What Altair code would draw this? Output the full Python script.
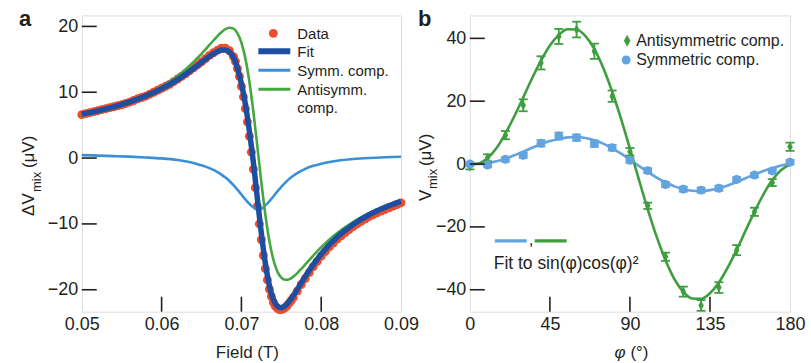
import altair as alt
import pandas as pd

FONT = "Liberation Sans"
TXT = "#231f20"
RED = "#EE4D2D"
FITC = "#1D4E9F"
SYMA = "#3B90D5"
GRNA = "#45A73F"
GRNB = "#3E9E3F"
BLUB = "#62A3E0"

# ---------------- panel a data ----------------
line_field = [0.050, 0.052, 0.054, 0.056, 0.058, 0.060, 0.062, 0.064,
              0.0645, 0.065, 0.0655, 0.066, 0.0665, 0.067, 0.0675, 0.068, 0.0685, 0.069,
              0.0695, 0.070, 0.0705, 0.071, 0.0715, 0.072, 0.0725, 0.073, 0.0735, 0.074,
              0.0745, 0.075, 0.0755, 0.076, 0.0765, 0.077, 0.0775, 0.078,
              0.079, 0.080, 0.082, 0.084, 0.086, 0.088, 0.090]
fit_vals = [6.67, 7.18, 7.79, 8.53, 9.43, 10.55, 11.92, 13.61,
            14.06, 14.54, 15.0, 15.45, 15.86, 16.19, 16.40, 16.41, 16.11, 15.36,
            13.7, 11.3, 8.2, 4.1, -0.64, -6.15, -11.46, -15.98, -19.33, -21.44,
            -22.49, -22.73, -22.41, -21.75, -20.89, -19.94, -18.96, -17.99,
            -16.18, -14.58, -12.0, -10.07, -8.61, -7.47, -6.56]
sym_vals = [0.45, 0.38, 0.30, 0.22, 0.10, -0.05, -0.30, -0.75,
            -0.92, -1.10, -1.30, -1.53, -1.80, -2.13, -2.51, -2.96, -3.48, -4.10,
            -4.78, -5.53, -6.28, -6.96, -7.47, -7.80, -7.72, -7.19, -6.57, -5.83,
            -5.08, -4.36, -3.72, -3.16, -2.68, -2.27, -1.93, -1.63,
            -1.18, -0.85, -0.41, -0.15, 0.01, 0.12, 0.20]
anti_vals = [6.4, 6.95, 7.6, 8.45, 9.5, 10.8, 12.45, 14.6,
             15.2, 15.84, 16.5, 17.18, 17.86, 18.52, 19.11, 19.57, 19.79, 19.66,
             18.99, 17.55, 15.13, 11.6, 7.03, 1.74, -3.67, -8.59, -12.56, -15.41,
             -17.21, -18.17, -18.49, -18.39, -18.01, -17.47, -16.83, -16.16,
             -14.8, -13.53, -11.39, -9.72, -8.42, -7.39, -6.56]

data_field = [0.0500, 0.0505, 0.0510, 0.0515, 0.0520, 0.0525, 0.0530, 0.0535, 0.0540, 0.0545,
              0.0550, 0.0555, 0.0560, 0.0565, 0.0570, 0.0575, 0.0580, 0.0585, 0.0590, 0.0595,
              0.0600, 0.0605, 0.0610, 0.0615, 0.0620, 0.0625, 0.0630, 0.0635, 0.0640, 0.0645,
              0.0650, 0.0655, 0.0660,
              0.0665, 0.0670, 0.0675, 0.0680, 0.0685,
              0.06900, 0.06925, 0.06950, 0.06975, 0.07000, 0.07025, 0.07050, 0.07075,
              0.07100, 0.07125, 0.07150, 0.07175, 0.07200, 0.07225, 0.07250, 0.07275,
              0.07300, 0.07325, 0.07350, 0.07375, 0.07400, 0.07425, 0.07450, 0.07475,
              0.07500, 0.07525, 0.07550, 0.07575, 0.07600, 0.07625,
              0.0765, 0.0770, 0.0775,
              0.0780, 0.0785, 0.0790, 0.0795, 0.0800, 0.0805, 0.0810, 0.0815, 0.0820,
              0.0825, 0.0830, 0.0835, 0.0840, 0.0845, 0.0850, 0.0855, 0.0860, 0.0865,
              0.0870, 0.0875, 0.0880, 0.0885, 0.0890, 0.0895, 0.0900]
data_vals = [6.6, 6.75, 6.9, 7.05, 7.2, 7.35, 7.5, 7.65, 7.8, 7.95,
             8.1, 8.3, 8.5, 8.75, 9.0, 9.2, 9.4, 9.7, 10.0, 10.3,
             10.6, 10.9, 11.2, 11.6, 12.0, 12.4, 12.8, 13.25, 13.7, 14.15,
             14.6, 15.1, 15.6,
             16.0, 16.4, 16.7, 16.7, 16.3,
             15.4, 14.7, 13.6, 12.4, 10.9, 9.3, 7.5, 5.5,
             3.3, 0.9, -1.7, -4.5, -7.3, -10.0, -12.4, -14.8,
             -16.8, -18.5, -19.9, -21.0, -21.9, -22.5, -22.8, -23.0,
             -23.0, -22.9, -22.7, -22.4, -22.0, -21.6,
             -21.2, -20.2, -19.2,
             -18.3, -17.4, -16.5, -15.7, -14.9, -14.2, -13.5, -12.9, -12.3,
             -11.8, -11.3, -10.85, -10.4, -10.0, -9.6, -9.25, -8.9, -8.6,
             -8.3, -8.05, -7.8, -7.55, -7.3, -7.05, -6.8]

a_xticks = [0.05, 0.06, 0.07, 0.08, 0.09]
a_yticks = [-20, -10, 0, 10, 20]

# ---------------- panel b data ----------------
phi = [0, 10, 20, 30, 40, 50, 60, 70, 80, 90, 100, 110, 120, 130, 140, 150, 160, 170, 180]
anti_b = [-0.8, 2.0, 9.2, 18.7, 32.2, 40.6, 42.8, 35.9, 21.6, 3.9,
          -13.3, -29.5, -40.6, -45.0, -39.3, -27.4, -15.2, -5.9, 5.5]
anti_err = [0.9, 1.1, 1.3, 1.9, 2.1, 2.4, 2.5, 2.4, 1.8, 1.2,
            1.0, 1.3, 1.6, 1.7, 1.7, 1.6, 1.3, 1.1, 1.3]
sym_b = [0.0, -0.3, 1.5, 2.8, 6.6, 8.9, 8.4, 6.5, 5.2, 1.2,
         -2.1, -6.5, -8.0, -8.3, -7.7, -4.9, -3.5, -2.2, 0.6]
sym_err = [0.6, 0.6, 0.7, 0.8, 1.0, 1.1, 1.0, 1.0, 0.9, 0.8,
           0.8, 0.8, 0.8, 0.8, 0.8, 0.7, 0.7, 0.7, 0.7]

phi_fit = [0, 5, 10, 15, 20, 25, 30, 35, 40, 45, 50, 55, 60, 65, 70, 75, 80, 85, 90,
           95, 100, 105, 110, 115, 120, 125, 130, 135, 140, 145, 150, 155, 160, 165, 170, 175, 180]
anti_fit = [0.0, 0.2, 1.9, 5.1, 9.7, 15.2, 21.2, 27.3, 32.9, 37.7, 41.1, 42.9, 42.8, 40.7,
            36.6, 30.6, 23.1, 14.4, 4.9, -4.9, -14.4, -23.1, -30.6, -36.6, -40.7, -42.8,
            -42.9, -41.1, -37.7, -32.9, -27.3, -21.2, -15.2, -9.7, -5.1, -1.9, -0.2]
sym_fit = [0.0, 0.0, 0.3, 0.9, 1.7, 2.8, 3.9, 5.2, 6.3, 7.3, 8.0, 8.5, 8.6, 8.3, 7.6,
           6.5, 5.0, 3.3, 1.4, -0.6, -2.5, -4.3, -5.8, -7.1, -8.0, -8.5, -8.6, -8.3,
           -7.7, -6.8, -5.7, -4.5, -3.3, -2.2, -1.3, -0.5, 0.2]

b_xticks = [0, 45, 90, 135, 180]
b_yticks = [-40, -20, 0, 20, 40]

# ---------------- helpers ----------------
ONE = pd.DataFrame({"k": [0]})
WA, HA = 320, 297
WB, HB = 321, 297
TICK = 15


def text(s, x, y, size=16, align="left", baseline="middle", angle=None,
         weight="normal", style="normal", color=TXT):
    kw = dict(text=s, fontSize=size, align=align, baseline=baseline, font=FONT,
              fontWeight=weight, fontStyle=style, color=color)
    if angle is not None:
        kw["angle"] = angle
    return alt.Chart(ONE).mark_text(**kw).encode(x=alt.value(x), y=alt.value(y))


def seg(x1, x2, y1, y2, color, width):
    return alt.Chart(ONE).mark_rule(color=color, strokeWidth=width, strokeCap="butt").encode(
        x=alt.value(x1), x2=alt.value(x2), y=alt.value(y1), y2=alt.value(y2))


def axis(values, fmt):
    return alt.Axis(values=values, format=fmt, title=None, ticks=False, domain=False, grid=False,
                    labelFont=FONT, labelFontSize=18, labelColor=TXT, labelPadding=4,
                    labelFlush=False, labelOverlap=False)


# ---------------- panel a ----------------
xs_a = alt.Scale(domain=[0.05, 0.09], nice=False, zero=False)
ys_a = alt.Scale(domain=[-23.33, 21.67], nice=False, zero=False)
ax_a = axis(a_xticks, ".2f")
ay_a = axis(a_yticks, "d")


def XA(f):
    return alt.X(f, type="quantitative", scale=xs_a, axis=ax_a)


def YA(f):
    return alt.Y(f, type="quantitative", scale=ys_a, axis=ay_a)


lines_a = pd.DataFrame({"field": line_field, "fit": fit_vals, "sym": sym_vals, "anti": anti_vals})
pts_a = pd.DataFrame({"field": data_field, "v": data_vals})

dots_a = alt.Chart(pts_a).mark_circle(size=80, color=RED, opacity=1).encode(x=XA("field"), y=YA("v"))
sym_line = alt.Chart(lines_a).mark_line(color=SYMA, strokeWidth=2.6, interpolate="monotone").encode(
    x=XA("field"), y=YA("sym"))
anti_line = alt.Chart(lines_a).mark_line(color=GRNA, strokeWidth=2.6, interpolate="monotone").encode(
    x=XA("field"), y=YA("anti"))
fit_line = alt.Chart(lines_a).mark_line(color=FITC, strokeWidth=5.5, interpolate="monotone").encode(
    x=XA("field"), y=YA("fit"))

xt_a = alt.Chart(pd.DataFrame({"t": a_xticks[1:-1]})).mark_rule(color=TXT, strokeWidth=1.6).encode(
    x=XA("t"), y=alt.value(HA), y2=alt.value(HA - TICK))
yt_a = alt.Chart(pd.DataFrame({"t": a_yticks})).mark_rule(color=TXT, strokeWidth=1.6).encode(
    y=YA("t"), x=alt.value(0), x2=alt.value(TICK))

pin = alt.Chart(ONE).mark_rect(opacity=0).encode(
    x=alt.value(-81), x2=alt.value(811 - 81), y=alt.value(-14), y2=alt.value(363 - 14))

leg_a = [
    alt.Chart(ONE).mark_circle(size=80, color=RED, opacity=1).encode(x=alt.value(192), y=alt.value(18)),
    text("Data", 216, 19, size=15),
    seg(177, 209, 36, 36, FITC, 6),
    text("Fit", 216, 37, size=15),
    seg(177, 209, 55, 55, SYMA, 3.2),
    text("Symm. comp.", 216, 56, size=15),
    seg(177, 209, 74, 74, GRNA, 3.2),
    text("Antisymm.", 216, 75, size=15),
    text("comp.", 216, 93, size=15),
]

titles_a = [
    text("a", -63, 11, size=22, weight="bold", baseline="alphabetic"),
    text("ΔV", -52.5, 201, size=17, angle=270),
    text("mix", -45, 177, size=13, angle=270),
    text("(μV)", -52.5, 153, size=17, angle=270),
    text("Field (T)", 166, 338, size=17, align="center"),
]

panel_a = alt.layer(pin, dots_a, sym_line, anti_line, fit_line, xt_a, yt_a, *leg_a, *titles_a).properties(
    width=WA, height=HA)

# ---------------- panel b ----------------
xs_b = alt.Scale(domain=[0, 180], nice=False, zero=False)
ys_b = alt.Scale(domain=[-46.98, 47.3], nice=False, zero=False)
ax_b = axis(b_xticks, "d")
ay_b = axis(b_yticks, "d")


def XB(f):
    return alt.X(f, type="quantitative", scale=xs_b, axis=ax_b)


def YB(f):
    return alt.Y(f, type="quantitative", scale=ys_b, axis=ay_b)


fits_b = pd.DataFrame({"phi": phi_fit, "anti": anti_fit, "sym": sym_fit})
pts_b = pd.DataFrame({"phi": phi, "anti": anti_b, "ae": anti_err, "sym": sym_b, "se": sym_err})

sym_fit_line = alt.Chart(fits_b).mark_line(color=BLUB, strokeWidth=2.6, interpolate="monotone").encode(
    x=XB("phi"), y=YB("sym"))
anti_fit_line = alt.Chart(fits_b).mark_line(color=GRNB, strokeWidth=2.6, interpolate="monotone").encode(
    x=XB("phi"), y=YB("anti"))

base_b = alt.Chart(pts_b).transform_calculate(
    alo="datum.anti - datum.ae", ahi="datum.anti + datum.ae",
    slo="datum.sym - datum.se", shi="datum.sym + datum.se")

a_bar = base_b.mark_rule(color=GRNB, strokeWidth=1.8).encode(x=XB("phi"), y=YB("alo"), y2="ahi:Q")
a_cap1 = base_b.mark_tick(color=GRNB, orient="horizontal", size=9, thickness=1.8, opacity=1).encode(
    x=XB("phi"), y=YB("alo"))
a_cap2 = base_b.mark_tick(color=GRNB, orient="horizontal", size=9, thickness=1.8, opacity=1).encode(
    x=XB("phi"), y=YB("ahi"))
DIAMOND = "M0,-1L0.55,0L0,1L-0.55,0Z"
a_pts = base_b.mark_point(shape=DIAMOND, filled=True, size=100, color=GRNB, opacity=1).encode(
    x=XB("phi"), y=YB("anti"))

s_bar = base_b.mark_rule(color=BLUB, strokeWidth=1.8).encode(x=XB("phi"), y=YB("slo"), y2="shi:Q")
s_cap1 = base_b.mark_tick(color=BLUB, orient="horizontal", size=9, thickness=1.8, opacity=1).encode(
    x=XB("phi"), y=YB("slo"))
s_cap2 = base_b.mark_tick(color=BLUB, orient="horizontal", size=9, thickness=1.8, opacity=1).encode(
    x=XB("phi"), y=YB("shi"))
s_pts = base_b.mark_circle(size=80, color=BLUB, opacity=1).encode(x=XB("phi"), y=YB("sym"))

xt_b = alt.Chart(pd.DataFrame({"t": b_xticks[1:-1]})).mark_rule(color=TXT, strokeWidth=1.6).encode(
    x=XB("t"), y=alt.value(HB), y2=alt.value(HB - TICK))
yt_b = alt.Chart(pd.DataFrame({"t": b_yticks})).mark_rule(color=TXT, strokeWidth=1.6).encode(
    y=YB("t"), x=alt.value(0), x2=alt.value(TICK))

leg_b = [
    alt.Chart(ONE).mark_point(shape=DIAMOND, filled=True, size=144, color=GRNB, opacity=1).encode(
        x=alt.value(157.7), y=alt.value(25.3)),
    text("Antisymmetric comp.", 166.7, 26, size=16),
    alt.Chart(ONE).mark_circle(size=80, color=BLUB, opacity=1).encode(x=alt.value(156.7), y=alt.value(44.7)),
    text("Symmetric comp.", 166.7, 45, size=16),
    seg(25, 57, 226, 226, BLUB, 3.2),
    text(",", 59, 230, size=17, baseline="alphabetic"),
    seg(65, 97, 226, 226, GRNB, 3.2),
    text("Fit to sin(φ)cos(φ)²", 24, 249.5, size=17.5),
]

titles_b = [
    text("b", -52, 11, size=22, weight="bold", baseline="alphabetic"),
    text("V", -44, 186, size=17, angle=270),
    text("mix", -36.5, 174, size=13, angle=270),
    text("(μV)", -44, 151, size=17, angle=270),
    text("φ", 156, 338, size=17, align="right", style="italic"),
    text("(°)", 161, 338, size=17, align="left"),
]

panel_b = alt.layer(sym_fit_line, anti_fit_line, a_bar, a_cap1, a_cap2, a_pts,
                    s_bar, s_cap1, s_cap2, s_pts, xt_b, yt_b, *leg_b, *titles_b).properties(
    width=WB, height=HB)

chart = alt.hconcat(panel_a, panel_b, spacing=69, bounds="flush").properties(
    padding=0, autosize=alt.AutoSizeParams(type="pad")
).configure_view(stroke=TXT, strokeWidth=1.6).configure(background="white")

chart.save("out.html", embed_options={"renderer": "svg", "actions": False})
